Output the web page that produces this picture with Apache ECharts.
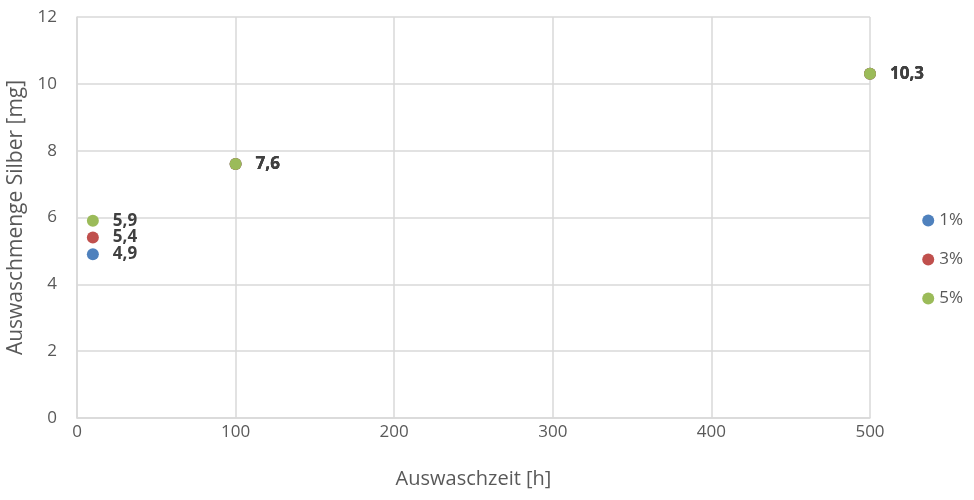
<!DOCTYPE html>
<html><head><meta charset="utf-8">
<script src="https://cdn.jsdelivr.net/npm/echarts@6/dist/echarts.min.js"></script>
<style>html,body{margin:0;padding:0;background:#fff}#c{width:974px;height:500px}</style>
</head><body><div id="c"></div>
<script>
const seriesNames = ['1%', '3%', '5%'];
const xValues = [10, 100, 500];
const values1 = [4.9, 7.6, 10.3];
const values3 = [5.4, 7.6, 10.3];
const values5 = [5.9, 7.6, 10.3];
const colors = ['#4F81BD', '#C0504D', '#9BBB59'];
const allValues = [values1, values3, values5];
const FONT = '"Open Sans", "Liberation Sans", sans-serif';

const chart = echarts.init(document.getElementById('c'));
chart.setOption({
  animation: false,
  grid: { left: 77, right: 104, top: 17, bottom: 82, containLabel: false, outerBoundsMode: 'none' },
  xAxis: {
    type: 'value', min: 0, max: 500, interval: 100,
    name: 'Auswaschzeit [h]', nameLocation: 'middle', nameGap: 51,
    nameTextStyle: { color: '#595959', fontSize: 20, fontFamily: FONT },
    axisLine: { show: true, lineStyle: { color: '#d9d9d9', width: 1.5 } },
    axisTick: { show: false },
    axisLabel: { color: '#595959', fontSize: 17, fontFamily: FONT, margin: 6 },
    splitLine: { show: true, lineStyle: { color: '#d9d9d9', width: 1.5 } }
  },
  yAxis: {
    type: 'value', min: 0, max: 12, interval: 2,
    name: 'Auswaschmenge Silber [mg]', nameLocation: 'middle', nameGap: 49,
    nameTextStyle: { color: '#595959', fontSize: 21, fontFamily: FONT },
    axisLine: { show: true, lineStyle: { color: '#d9d9d9', width: 1.5 } },
    axisTick: { show: false },
    axisLabel: { color: '#595959', fontSize: 17, fontFamily: FONT, margin: 20 },
    splitLine: { show: true, lineStyle: { color: '#d9d9d9', width: 1.5 } }
  },
  legend: {
    orient: 'vertical', right: 6, top: 207, itemGap: 22,
    icon: 'circle', itemWidth: 12, itemHeight: 12,
    textStyle: { color: '#595959', fontSize: 17, fontFamily: FONT },
    data: seriesNames
  },
  series: seriesNames.map((n, i) => ({
    name: n, type: 'scatter', symbolSize: 12,
    itemStyle: { color: colors[i], opacity: 1 },
    data: xValues.map((x, j) => [x, allValues[i][j]]),
    label: {
      show: true, position: 'right', distance: 14,
      color: '#404040', fontWeight: 'bold', fontSize: 17, fontFamily: FONT,
      formatter: p => String(p.value[1]).replace('.', ',')
    }
  }))
});
</script></body></html>
